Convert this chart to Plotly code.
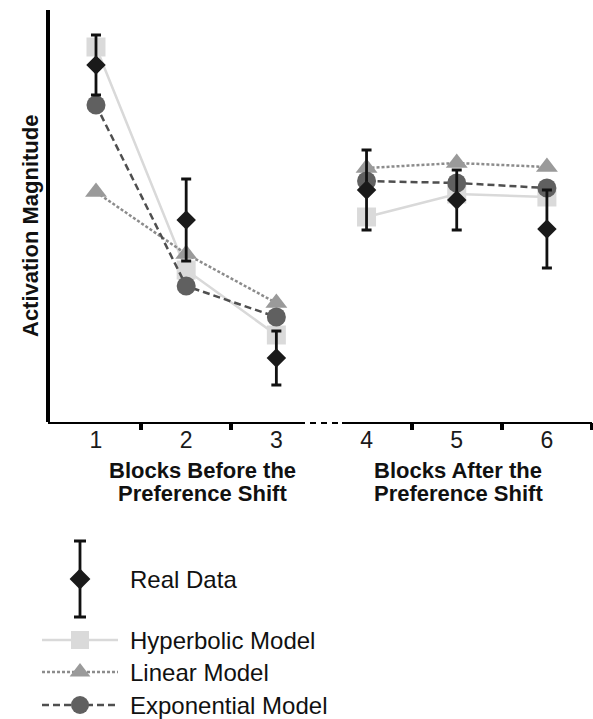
import plotly.graph_objects as go

# ---------------- data ----------------
blocks = [1, 2, 3, 4, 5, 6]
tick_labels = ["1", "2", "3", "4", "5", "6"]
real_data = [3.57, 2.02, 0.64, 2.32, 2.22, 1.93]
real_error = [0.30, 0.41, 0.27, 0.40, 0.30, 0.39]
hyperbolic = [3.75, 1.52, 0.87, 2.05, 2.28, 2.25]
linear = [2.30, 1.68, 1.19, 2.54, 2.59, 2.55]
exponential = [3.17, 1.36, 1.05, 2.41, 2.39, 2.34]
n_before = 3  # blocks before the preference shift

group_titles = [("Blocks Before the", "Preference Shift"),
                ("Blocks After the", "Preference Shift")]
legend_names = ["Real Data", "Hyperbolic Model", "Linear Model", "Exponential Model"]

FONT = "Liberation Sans, Arial, sans-serif"
W, H = 593, 719
TOP = 10
PLOT_BOTTOM = 422  # pixel row of the x axis
PLOT_W = W - 1
PLOT_H = H - TOP


def split(vals):
    """insert a gap between the two phases"""
    xs = blocks[:n_before] + [None] + blocks[n_before:]
    ys = vals[:n_before] + [None] + vals[n_before:]
    return xs, ys


fig = go.Figure()

styles = [
    ("Hyperbolic Model", hyperbolic, "#d9d9d9", "#dadada", "square", 19, "solid", 2.5),
    ("Linear Model", linear, "#8c8c8c", "#9a9a9a", "triangle-up", 19, "3px,2px", 2.5),
    ("Exponential Model", exponential, "#4f4f4f", "#606060", "circle", 19, "7px,4px", 2.5),
]
for name, vals, lc, mc, sym, ms, dash, lw in styles:
    xs, ys = split(vals)
    fig.add_trace(go.Scatter(
        x=xs, y=ys, mode="lines+markers", name=name, connectgaps=False,
        line=dict(color=lc, width=lw, dash=dash),
        marker=dict(symbol=sym, size=ms, color=mc),
        showlegend=False, xaxis="x", yaxis="y", cliponaxis=False))

fig.add_trace(go.Scatter(
    x=blocks, y=real_data, mode="markers", name="Real Data",
    marker=dict(symbol="diamond", size=15, color="#1a1a1a"),
    error_y=dict(type="data", array=real_error, visible=True,
                 color="#111111", thickness=2.8, width=5),
    showlegend=False, xaxis="x", yaxis="y", cliponaxis=False))

# ---------------- custom legend (pixel space on x2/y2) ----------------
LX0, LXM, LX1 = 42, 80, 118
rows_y = [579, 640, 672, 705]
fig.add_trace(go.Scatter(
    x=[LXM], y=[rows_y[0]], mode="markers",
    marker=dict(symbol="diamond", size=16, color="#1a1a1a"),
    error_y=dict(type="constant", value=38, color="#111111", thickness=2.8, width=6),
    showlegend=False, xaxis="x2", yaxis="y2", hoverinfo="skip"))
for (name, vals, lc, mc, sym, ms, dash, lw), ry in zip(styles, rows_y[1:]):
    fig.add_trace(go.Scatter(
        x=[LX0, LXM, LX1], y=[ry, ry, ry], mode="lines",
        line=dict(color=lc, width=lw, dash=dash),
        showlegend=False, xaxis="x2", yaxis="y2", hoverinfo="skip"))
    fig.add_trace(go.Scatter(
        x=[LXM], y=[ry], mode="markers",
        marker=dict(symbol=sym, size=18, color=mc),
        showlegend=False, xaxis="x2", yaxis="y2", hoverinfo="skip"))

annotations = []
for name, ry in zip(legend_names, rows_y):
    annotations.append(dict(text=name, x=128, y=ry, xref="x2", yref="y2",
                            xanchor="left", yanchor="middle", showarrow=False,
                            font=dict(family=FONT, size=24, color="#111111")))

# axis titles
annotations.append(dict(text="<b>Activation Magnitude</b>",
                        x=31 / PLOT_W, y=(H - 226) / PLOT_H,
                        xref="paper", yref="paper", textangle=-90, showarrow=False,
                        xanchor="center", yanchor="middle",
                        font=dict(family=FONT, size=22, color="#111111")))
for (l1, l2), cx in zip(group_titles, [202, 458]):
    for txt, cy in ((l1, 470), (l2, 493)):
        annotations.append(dict(text="<b>%s</b>" % txt, x=cx, y=cy,
                                xref="x2", yref="y2", showarrow=False,
                                xanchor="center", yanchor="middle",
                                font=dict(family=FONT, size=22, color="#111111")))

# x axis line with a dotted break
shapes = [
    dict(type="line", xref="x2", yref="y2", x0=48, x1=305, y0=PLOT_BOTTOM, y1=PLOT_BOTTOM,
         line=dict(color="black", width=4)),
    dict(type="line", xref="x2", yref="y2", x0=310, x1=341, y0=PLOT_BOTTOM, y1=PLOT_BOTTOM,
         line=dict(color="black", width=4, dash="6px,5px")),
    dict(type="line", xref="x2", yref="y2", x0=342, x1=592, y0=PLOT_BOTTOM, y1=PLOT_BOTTOM,
         line=dict(color="black", width=4)),
]

ydom0 = (H - PLOT_BOTTOM) / PLOT_H

fig.update_layout(
    width=W, height=H,
    margin=dict(l=0, r=1, t=TOP, b=0),
    paper_bgcolor="white", plot_bgcolor="rgba(0,0,0,0)",
    showlegend=False,
    xaxis=dict(domain=[50 / PLOT_W, 1], range=[0.49, 6.5], anchor="y",
               tickmode="array", tickvals=blocks, ticktext=tick_labels,
               ticks="outside", ticklen=0, tickcolor="rgba(0,0,0,0)",
               ticklabelstandoff=-3,
               tickfont=dict(family=FONT, size=23, color="#1a1a1a"),
               showline=False, showgrid=False, zeroline=False,
               minor=dict(tickmode="array", tickvals=[1.5, 2.5, 4.5, 5.5, 6.5],
                          ticks="outside", ticklen=7, tickwidth=4, tickcolor="black",
                          showgrid=False)),
    yaxis=dict(domain=[ydom0, 1], range=[0, 4.12], anchor="x",
               showline=True, linewidth=4, linecolor="black",
               showticklabels=False, ticks="", showgrid=False, zeroline=False),
    xaxis2=dict(domain=[0, 1], range=[0, PLOT_W], anchor="y2", visible=False),
    yaxis2=dict(domain=[0, ydom0], range=[H, PLOT_BOTTOM], anchor="x2", visible=False),
    annotations=annotations,
    shapes=shapes,
)

fig.write_html("out.html", config={"displayModeBar": False},
               post_script="document.body.style.margin='0';document.body.style.overflow='hidden';")
